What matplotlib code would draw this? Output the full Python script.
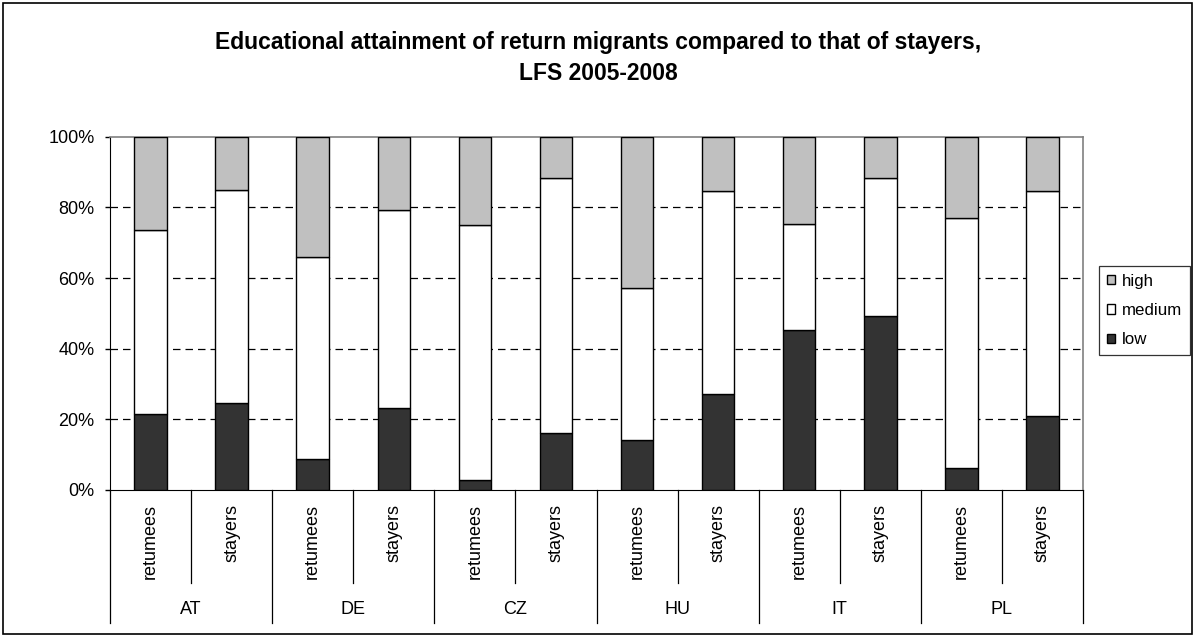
import matplotlib
matplotlib.use("Agg")
import matplotlib.pyplot as plt
import matplotlib.patches as mpatches
import matplotlib.transforms as mtransforms

plt.rcParams["font.family"] = ["Liberation Sans", "DejaVu Sans"]

countries = ["AT", "DE", "CZ", "HU", "IT", "PL"]
groups = ["retumees", "stayers"]

# shares in %, order: AT ret, AT stay, DE ret, ...
low    = [21.6, 24.5, 8.7, 23.3, 2.9, 16.2, 14.2, 27.1, 45.4, 49.2, 6.3, 20.9]
medium = [52.1, 60.5, 57.2, 55.9, 72.1, 72.2, 42.9, 57.5, 30.0, 39.2, 70.8, 63.7]
high   = [100 - l - m for l, m in zip(low, medium)]

colors = {"low": "#333333", "medium": "#ffffff", "high": "#c0c0c0"}

W, H = 1196, 637
fig = plt.figure(figsize=(W / 100, H / 100), dpi=100)
fig.patch.set_facecolor("white")
ax = fig.add_axes([110 / W, (H - 490) / H, 973 / W, 353.3 / H])

x = list(range(len(low)))
bw = 0.4
ax.bar(x, low, width=bw, color=colors["low"], edgecolor="black", linewidth=1, zorder=3, label="low")
ax.bar(x, medium, width=bw, bottom=low, color=colors["medium"], edgecolor="black", linewidth=1, zorder=3, label="medium")
bottom2 = [l + m for l, m in zip(low, medium)]
ax.bar(x, high, width=bw, bottom=bottom2, color=colors["high"], edgecolor="black", linewidth=1, zorder=3, label="high")

ax.set_xlim(-0.5, len(low) - 0.5)
ax.set_ylim(0, 100)
ax.set_yticks([0, 20, 40, 60, 80, 100])
ax.set_yticklabels([f"{v}%" for v in [0, 20, 40, 60, 80, 100]], fontsize=13)
ax.tick_params(axis="y", length=3.6, width=1, color="black", pad=7.5)
for yv in [20, 40, 60, 80]:
    ax.axhline(yv, color="black", linestyle=(0, (6, 4)), linewidth=0.9, zorder=1)

for side in ["top", "right"]:
    ax.spines[side].set_color("#808080")
    ax.spines[side].set_linewidth(1.2)
ax.spines["left"].set_color("black")
ax.spines["bottom"].set_color("black")

# two-level category axis
ax.set_xticks([])
trans = mtransforms.blended_transform_factory(ax.transData, ax.transAxes)
ax_h = 353.3
minor_depth = (583 - 490) / ax_h
major_depth = (623 - 490) / ax_h
for i in range(len(countries)):
    gx = 2 * i - 0.5
    ax.plot([gx, gx], [0, -major_depth], color="black", lw=0.9, transform=trans, clip_on=False)
    ax.plot([gx + 1, gx + 1], [0, -minor_depth], color="black", lw=0.9, transform=trans, clip_on=False)
    ax.text(2 * i + 0.5, -(609 - 490) / ax_h, countries[i], ha="center", va="center",
            fontsize=13, transform=trans)
    for j, g in enumerate(groups):
        ax.text(2 * i + j, -(504 - 490) / ax_h, g, ha="center", va="top", rotation=90,
                fontsize=13, transform=trans)
ax.plot([len(low) - 0.5] * 2, [0, -major_depth], color="black", lw=0.9, transform=trans, clip_on=False)

handles = [mpatches.Patch(facecolor=colors[k], edgecolor="black", label=k)
           for k in ["high", "medium", "low"]]
leg = fig.legend(handles=handles, loc="upper left",
                 bbox_to_anchor=(1099 / W, 1 - 266 / H), fontsize=12.2,
                 frameon=True, fancybox=False, edgecolor="black",
                 handlelength=0.5, handleheight=0.5, handletextpad=0.4,
                 labelspacing=0.85, borderpad=0.45, borderaxespad=0)
leg.get_frame().set_linewidth(0.9)

fig.text(0.5, 1 - 43 / H, "Educational attainment of return migrants compared to that of stayers,",
         ha="center", va="center", fontsize=16.5, fontweight="bold")
fig.text(0.5, 1 - 74 / H, "LFS 2005-2008", ha="center", va="center",
         fontsize=16.5, fontweight="bold")

fig.add_artist(mpatches.Rectangle((3 / W, 3 / H), 1189 / W, 631 / H, transform=fig.transFigure,
                                  fill=False, edgecolor="black", linewidth=1.2))

fig.savefig("out.png", dpi=100)
